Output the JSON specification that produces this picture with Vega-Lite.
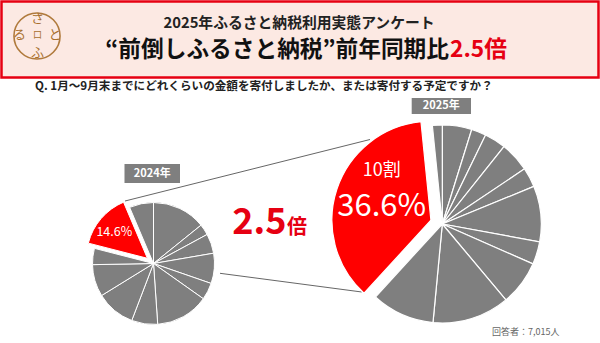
{
  "$schema": "https://vega.github.io/schema/vega-lite/v6.json",
  "width": 600,
  "height": 343,
  "autosize": {"type": "fit", "contains": "padding"},
  "padding": 0,
  "background": "white",
  "config": {"view": {"stroke": null}, "font": "Noto Sans CJK JP", "text": {"font": "Noto Sans CJK JP"}},
  "datasets": {
    "pies": [
      {"year": 2024, "idx": 1, "cat": "1割未満", "share": 0.142},
      {"year": 2024, "idx": 2, "cat": "1割", "share": 0.029},
      {"year": 2024, "idx": 3, "cat": "2割", "share": 0.052},
      {"year": 2024, "idx": 4, "cat": "3割", "share": 0.080},
      {"year": 2024, "idx": 5, "cat": "4割", "share": 0.045},
      {"year": 2024, "idx": 6, "cat": "5割", "share": 0.141},
      {"year": 2024, "idx": 7, "cat": "6割", "share": 0.069},
      {"year": 2024, "idx": 8, "cat": "7割", "share": 0.104},
      {"year": 2024, "idx": 9, "cat": "8割", "share": 0.085},
      {"year": 2024, "idx": 10, "cat": "9割", "share": 0.043},
      {"year": 2024, "idx": 11, "cat": "10割", "share": 0.146},
      {"year": 2024, "idx": 12, "cat": "未定", "share": 0.064},
      {"year": 2025, "idx": 1, "cat": "1割未満", "share": 0.048},
      {"year": 2025, "idx": 2, "cat": "1割", "share": 0.024},
      {"year": 2025, "idx": 3, "cat": "2割", "share": 0.035},
      {"year": 2025, "idx": 4, "cat": "3割", "share": 0.049},
      {"year": 2025, "idx": 5, "cat": "4割", "share": 0.032},
      {"year": 2025, "idx": 6, "cat": "5割", "share": 0.091},
      {"year": 2025, "idx": 7, "cat": "6割", "share": 0.037},
      {"year": 2025, "idx": 8, "cat": "7割", "share": 0.073},
      {"year": 2025, "idx": 9, "cat": "8割", "share": 0.126},
      {"year": 2025, "idx": 10, "cat": "9割", "share": 0.103},
      {"year": 2025, "idx": 11, "cat": "10割", "share": 0.366},
      {"year": 2025, "idx": 12, "cat": "未定", "share": 0.016}
    ]
  },
  "data": {"values": [{}]},
  "layer": [
    {
      "mark": {"type": "rect", "fill": "#fce9e3", "stroke": "#e60012", "strokeWidth": 2.5},
      "encoding": {"x": {"value": 1.5}, "y": {"value": 1.5}, "x2": {"value": 598.5}, "y2": {"value": 77.5}}
    },
    {
      "mark": {"type": "point", "shape": "circle", "filled": false, "size": 2124, "stroke": "#b07a3c", "strokeWidth": 1.6, "opacity": 1},
      "encoding": {"x": {"value": 37}, "y": {"value": 36}}
    },
    {"mark": {"type": "text", "text": "さ", "fontSize": 13, "color": "#a8702e", "align": "center", "baseline": "middle"}, "encoding": {"x": {"value": 37.5}, "y": {"value": 19}}},
    {"mark": {"type": "text", "text": "る", "fontSize": 13, "color": "#a8702e", "align": "center", "baseline": "middle"}, "encoding": {"x": {"value": 19.5}, "y": {"value": 35}}},
    {"mark": {"type": "text", "text": "口", "fontSize": 9, "color": "#a8702e", "align": "center", "baseline": "middle"}, "encoding": {"x": {"value": 37.5}, "y": {"value": 35}}},
    {"mark": {"type": "text", "text": "と", "fontSize": 13, "color": "#a8702e", "align": "center", "baseline": "middle"}, "encoding": {"x": {"value": 55}, "y": {"value": 35}}},
    {"mark": {"type": "text", "text": "ふ", "fontSize": 13, "color": "#a8702e", "align": "center", "baseline": "middle"}, "encoding": {"x": {"value": 37.5}, "y": {"value": 52.5}}},
    {
      "mark": {"type": "text", "text": "2025年ふるさと納税利用実態アンケート", "fontSize": 14.8, "fontWeight": "bold", "color": "#222222", "align": "center", "baseline": "middle"},
      "encoding": {"x": {"value": 299}, "y": {"value": 24}}
    },
    {
      "mark": {"type": "text", "text": "“前倒しふるさと納税”前年同期比", "fontSize": 22.7, "fontWeight": "bold", "color": "#111111", "align": "right", "baseline": "middle"},
      "encoding": {"x": {"value": 449}, "y": {"value": 50}}
    },
    {
      "mark": {"type": "text", "text": "2.5倍", "fontSize": 22.7, "fontWeight": "bold", "color": "#e60012", "align": "left", "baseline": "middle"},
      "encoding": {"x": {"value": 450}, "y": {"value": 50}}
    },
    {
      "mark": {"type": "text", "text": "Q. 1月～9月末までにどれくらいの金額を寄付しましたか、または寄付する予定ですか？", "fontSize": 11.6, "fontWeight": "bold", "color": "#222222", "align": "left", "baseline": "middle"},
      "encoding": {"x": {"value": 35}, "y": {"value": 87}}
    },
    {
      "mark": {"type": "rule", "stroke": "#666666", "strokeWidth": 1},
      "encoding": {"x": {"value": 125}, "y": {"value": 201}, "x2": {"value": 370}, "y2": {"value": 139.5}}
    },
    {
      "mark": {"type": "rule", "stroke": "#666666", "strokeWidth": 1},
      "encoding": {"x": {"value": 220}, "y": {"value": 273.3}, "x2": {"value": 361.7}, "y2": {"value": 292}}
    },
    {
      "data": {"name": "pies"},
      "transform": [{"filter": "datum.year === 2024"}],
      "mark": {"type": "arc", "outerRadius": 61, "stroke": "white", "strokeWidth": 1},
      "encoding": {
        "theta": {"field": "share", "type": "quantitative", "stack": true},
        "order": {"field": "idx", "type": "quantitative"},
        "color": {"condition": {"test": "datum.cat === '10割'", "value": "#ff0000"}, "value": "#7f7f7f"},
        "opacity": {"condition": {"test": "datum.cat === '10割'", "value": 0}, "value": 1},
        "x": {"value": 153.5},
        "y": {"value": 263.5}
      }
    },
    {
      "data": {"name": "pies"},
      "transform": [{"filter": "datum.year === 2024"}],
      "mark": {"type": "arc", "outerRadius": 61, "stroke": "white", "strokeWidth": 1, "xOffset": -6.1, "yOffset": -5.2},
      "encoding": {
        "theta": {"field": "share", "type": "quantitative", "stack": true},
        "order": {"field": "idx", "type": "quantitative"},
        "color": {"condition": {"test": "datum.cat === '10割'", "value": "#ff0000"}, "value": "#7f7f7f"},
        "opacity": {"condition": {"test": "datum.cat === '10割'", "value": 1}, "value": 0},
        "x": {"value": 153.5},
        "y": {"value": 263.5}
      }
    },
    {
      "data": {"name": "pies"},
      "transform": [{"filter": "datum.year === 2025"}],
      "mark": {"type": "arc", "outerRadius": 99, "stroke": "white", "strokeWidth": 1.2},
      "encoding": {
        "theta": {"field": "share", "type": "quantitative", "stack": true},
        "order": {"field": "idx", "type": "quantitative"},
        "color": {"condition": {"test": "datum.cat === '10割'", "value": "#ff0000"}, "value": "#7f7f7f"},
        "opacity": {"condition": {"test": "datum.cat === '10割'", "value": 0}, "value": 1},
        "x": {"value": 442.3},
        "y": {"value": 224}
      }
    },
    {
      "data": {"name": "pies"},
      "transform": [{"filter": "datum.year === 2025"}],
      "mark": {"type": "arc", "outerRadius": 99, "stroke": "white", "strokeWidth": 1.2, "xOffset": -11.4, "yOffset": -3.8},
      "encoding": {
        "theta": {"field": "share", "type": "quantitative", "stack": true},
        "order": {"field": "idx", "type": "quantitative"},
        "color": {"condition": {"test": "datum.cat === '10割'", "value": "#ff0000"}, "value": "#7f7f7f"},
        "opacity": {"condition": {"test": "datum.cat === '10割'", "value": 1}, "value": 0},
        "x": {"value": 442.3},
        "y": {"value": 224}
      }
    },
    {
      "mark": {"type": "rect", "fill": "#7f7f7f"},
      "encoding": {"x": {"value": 124.5}, "y": {"value": 164}, "x2": {"value": 180}, "y2": {"value": 183}}
    },
    {
      "mark": {"type": "text", "text": "2024年", "fontSize": 11, "fontWeight": "bold", "color": "white", "align": "center", "baseline": "middle"},
      "encoding": {"x": {"value": 152.3}, "y": {"value": 173.5}}
    },
    {
      "mark": {"type": "rect", "fill": "#7f7f7f"},
      "encoding": {"x": {"value": 411.7}, "y": {"value": 98}, "x2": {"value": 471}, "y2": {"value": 114}}
    },
    {
      "mark": {"type": "text", "text": "2025年", "fontSize": 11, "fontWeight": "bold", "color": "white", "align": "center", "baseline": "middle"},
      "encoding": {"x": {"value": 441.3}, "y": {"value": 106}}
    },
    {
      "data": {"name": "pies"},
      "transform": [{"filter": "datum.year === 2024 && datum.cat === '10割'"}],
      "mark": {"type": "text", "fontSize": 12.5, "color": "white", "align": "center", "baseline": "middle"},
      "encoding": {"text": {"field": "share", "type": "quantitative", "format": ".1%"}, "x": {"value": 114.3}, "y": {"value": 231.7}}
    },
    {
      "mark": {"type": "text", "text": "10割", "fontSize": 18, "color": "white", "align": "center", "baseline": "middle"},
      "encoding": {"x": {"value": 381.7}, "y": {"value": 171}}
    },
    {
      "data": {"name": "pies"},
      "transform": [{"filter": "datum.year === 2025 && datum.cat === '10割'"}],
      "mark": {"type": "text", "fontSize": 31, "color": "white", "align": "center", "baseline": "middle"},
      "encoding": {"text": {"field": "share", "type": "quantitative", "format": ".1%"}, "x": {"value": 381.7}, "y": {"value": 207}}
    },
    {
      "mark": {"type": "text", "text": "2.5", "fontSize": 36, "fontWeight": "bold", "color": "#e60012", "align": "right", "baseline": "alphabetic"},
      "encoding": {"x": {"value": 286.5}, "y": {"value": 233.5}}
    },
    {
      "mark": {"type": "text", "text": "倍", "fontSize": 20, "fontWeight": "bold", "color": "#e60012", "align": "left", "baseline": "alphabetic"},
      "encoding": {"x": {"value": 287}, "y": {"value": 233.5}}
    },
    {
      "mark": {"type": "text", "text": "回答者：7,015人", "fontSize": 9, "color": "#666666", "align": "left", "baseline": "middle"},
      "encoding": {"x": {"value": 492}, "y": {"value": 331.7}}
    }
  ]
}
